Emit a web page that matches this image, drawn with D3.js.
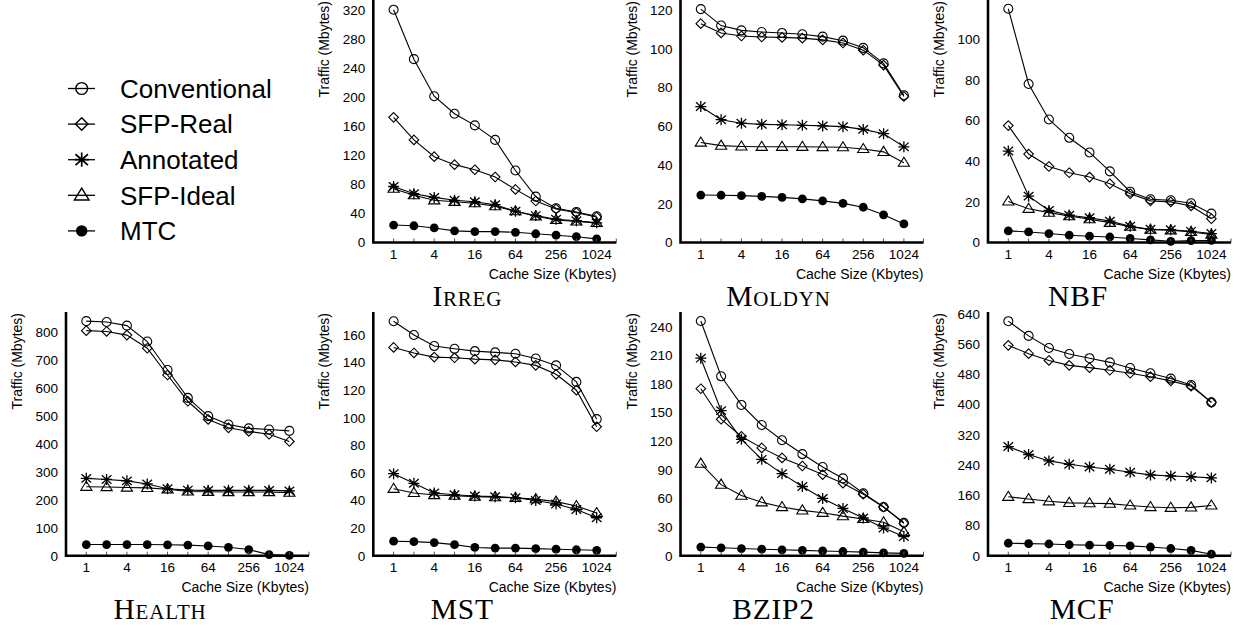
<!DOCTYPE html>
<html><head><meta charset="utf-8">
<script src="https://cdn.jsdelivr.net/npm/d3@7"></script>
<style>body{margin:0;background:#fff} svg{display:block}</style>
</head><body>
<svg id="c" width="1241" height="628"></svg>
<script>
// ---------- DATA ----------
const seriesNames = ["Conventional","SFP-Real","Annotated","SFP-Ideal","MTC"];
const markerTypes = ["circle","diamond","asterisk","triangle","dot"];
const cacheSizes = [1,2,4,8,16,32,64,128,256,512,1024];
const xTickValues = [1,4,16,64,256,1024];
const benchmarks = ["Irreg","Moldyn","NBF","Health","MST","BZIP2","MCF"];

const irregConventional = [320,252,201,177,161,141,99,63,47,42,36];
const irregSfpReal      = [172,141,118,107,100,90,73,57,46,41,35];
const irregAnnotated    = [77,67,62,58,56,52,43,37,32,30,27];
const irregSfpIdeal     = [74,65,58,56,54,50,43,36,31,29,27];
const irregMtc          = [24,23,20,16,15,15,14,12,10,8,5];

const moldynConventional = [120.5,112,109.5,108.7,108.2,107.5,106.3,104.2,100.5,92.5,76];
const moldynSfpReal      = [113,108.2,106.6,106.1,105.9,105.5,104.6,103,99.3,91.6,75.4];
const moldynAnnotated    = [70.2,63.4,61.6,61,60.8,60.5,60.2,59.8,58.4,56.2,49.4];
const moldynSfpIdeal     = [51.6,50,49.6,49.4,49.4,49.4,49.3,49.2,48.3,46.8,41.2];
const moldynMtc          = [24.5,24.4,24.2,23.8,23.3,22.5,21.5,20.2,18.2,14.3,9.6];

const nbfConventional = [115,78,60.5,51.5,44.3,35,25,21.3,20.8,19.3,14.2];
const nbfSfpReal      = [57.5,43.5,37.4,34.3,32.2,28.9,24,20.5,20,18,11.7];
const nbfAnnotated    = [45,22.8,15.8,13.4,12.2,10.5,8,6.5,6.3,5.5,4.4];
const nbfSfpIdeal     = [20.2,16.6,14.7,13,11.5,9.7,7.8,6.3,6,5.2,3.9];
const nbfMtc          = [5.7,5.2,4.4,3.6,3.1,2.7,2.0,1.3,0.6,0.9,1.0];

const healthConventional = [840,837,824,767,665,565,500,470,456,452,447];
const healthSfpReal      = [806,803,790,743,647,553,488,458,445,435,409];
const healthAnnotated    = [277,273,268,257,240,235,234,234,234,234,232];
const healthSfpIdeal     = [247,246,244,243,238,230,229,228,228,228,226];
const healthMtc          = [40,40,40,40,39,38,35,30,22,4,1];

const mstConventional = [170,160,152,150,148.3,147.4,146.4,143,138,126,99];
const mstSfpReal      = [151,147,144,143.5,142.5,142,140.5,138,131.5,120,93.5];
const mstAnnotated    = [59.5,52.5,45.5,44.2,43.3,42.8,42,40,37.5,33.5,27.5];
const mstSfpIdeal     = [48.5,45.5,44,43.5,42.8,42.5,42,41,39.2,36,31];
const mstMtc          = [10.5,10.2,9.5,8,6,5.5,5.5,5.1,4.7,4.3,3.9];

const bzip2Conventional = [246,188,158,137,121,106.5,93,81,65.5,51,34.5];
const bzip2SfpReal      = [175,143,125,113,102.5,94,85,76,64.5,51,34];
const bzip2Annotated    = [207,152,122,101,86,72.5,60,49.5,39.5,29,20];
const bzip2SfpIdeal     = [96.5,74.5,63,56,51,47.5,45,41.5,38.5,35,25];
const bzip2Mtc          = [9,8.3,7.5,6.8,6.2,5.6,5,4.4,3.7,3,2.4];

const mcfConventional = [621,582,550,534,523,512,497,483,469,452,406];
const mcfSfpReal      = [557,535,517,504,498,491,483,474,463,449,406];
const mcfAnnotated    = [289,268,251,242,235,229,221,214,211,209,206];
const mcfSfpIdeal     = [156,150,144,140,139,138,133,129,127,128,133];
const mcfMtc          = [33,32,31,29,28,27,26,23,19,14,4];

const yTickStep = [40,20,20,100,20,30,80];
const yTickTop  = [320,120,100,800,160,240,640];
const yDomainMax = [333.3,125.2,119.3,872.7,176.7,255.4,645.3];

const panelSeries = [
  [irregConventional,irregSfpReal,irregAnnotated,irregSfpIdeal,irregMtc],
  [moldynConventional,moldynSfpReal,moldynAnnotated,moldynSfpIdeal,moldynMtc],
  [nbfConventional,nbfSfpReal,nbfAnnotated,nbfSfpIdeal,nbfMtc],
  [healthConventional,healthSfpReal,healthAnnotated,healthSfpIdeal,healthMtc],
  [mstConventional,mstSfpReal,mstAnnotated,mstSfpIdeal,mstMtc],
  [bzip2Conventional,bzip2SfpReal,bzip2Annotated,bzip2SfpIdeal,bzip2Mtc],
  [mcfConventional,mcfSfpReal,mcfAnnotated,mcfSfpIdeal,mcfMtc]
];

// ---------- LAYOUT ----------
const colAxisX = [66, 373.3, 680.5, 988];
const rowBase = [242.5, 555.7];
const rowTop = [0, 312];
const slots = [[0,1],[0,2],[0,3],[1,0],[1,1],[1,2],[1,3]];
const titleDx = [94, 98, 90, 94, 89, 93, 94];
const axisLen = 243;
const sans = "'Liberation Sans', Arial, Helvetica, sans-serif";

const svg = d3.select("#c");

function marker(g, type, x, y, s) {
  s = s || 1;
  const m = g.append("g").attr("transform", `translate(${x},${y}) scale(${s})`);
  if (type === "circle") {
    m.append("circle").attr("r", 4.5).attr("fill","none").attr("stroke","#000").attr("stroke-width",1.1);
  } else if (type === "dot") {
    m.append("circle").attr("r", 4.4).attr("fill","#000");
  } else if (type === "diamond") {
    m.append("path").attr("d","M0,-4.8L4.8,0L0,4.8L-4.8,0Z").attr("fill","none").attr("stroke","#000").attr("stroke-width",1.1);
  } else if (type === "triangle") {
    m.append("path").attr("d","M0,-5.5L5.6,3.6L-5.6,3.6Z").attr("fill","none").attr("stroke","#000").attr("stroke-width",1.1);
  } else if (type === "asterisk") {
    m.append("path").attr("d","M0,-5.5V5.5M-4.8,-4.2L4.8,4.2M-4.8,4.2L4.8,-4.2M-5.5,0H5.5").attr("fill","none").attr("stroke","#000").attr("stroke-width",1.3);
  }
}

benchmarks.forEach((name, i) => {
  const [row, col] = slots[i];
  const ax = colAxisX[col];
  const y0 = rowBase[row], yT = rowTop[row];
  const x = d3.scaleLog().base(2).domain([0.5, 2000]).range([ax, ax + axisLen]);
  const y = d3.scaleLinear().domain([0, yDomainMax[i]]).range([y0, yT]);
  const g = svg.append("g");

  // series
  const line = d3.line().x((d, j) => x(cacheSizes[j])).y(d => y(d));
  panelSeries[i].forEach((vals, k) => {
    g.append("path").attr("d", line(vals)).attr("fill","none").attr("stroke","#000").attr("stroke-width",1.1);
  });
  panelSeries[i].forEach((vals, k) => {
    vals.forEach((v, j) => marker(g, markerTypes[k], x(cacheSizes[j]), y(v)));
  });

  // x axis ticks (inward small)
  cacheSizes.concat([2000]).forEach(c => {
    g.append("line").attr("x1", x(c)).attr("x2", x(c)).attr("y1", y0).attr("y2", y0 - 4)
      .attr("stroke", "#555").attr("stroke-width", 1);
  });
  // axes lines
  g.append("path").attr("d", `M${ax},${yT}V${y0}H${ax + axisLen}`)
    .attr("fill","none").attr("stroke","#000").attr("stroke-width",2.6);

  // x tick labels
  g.selectAll(null).data(xTickValues).join("text")
    .attr("x", d => x(d)).attr("y", y0 + 16)
    .attr("text-anchor","middle").attr("font-family",sans).attr("font-size",13.5)
    .text(d => d);
  // y tick labels
  const yt = d3.range(0, yTickTop[i] + 0.001, yTickStep[i]);
  g.selectAll(null).data(yt).join("text")
    .attr("x", ax - 8).attr("y", d => y(d)).attr("dy","0.36em")
    .attr("text-anchor","end").attr("font-family",sans).attr("font-size",13.5)
    .text(d => d);

  // axis titles
  g.append("text").attr("x", ax + axisLen).attr("y", y0 + 36)
    .attr("text-anchor","end").attr("font-family",sans).attr("font-size",14)
    .text("Cache Size (Kbytes)");
  g.append("text").attr("transform", `translate(${ax - 44},${yT + 1}) rotate(-90)`)
    .attr("text-anchor","end").attr("font-family",sans).attr("font-size",14)
    .text("Traffic (Mbytes)");

  // panel title
  g.append("text").attr("x", ax + titleDx[i]).attr("y", y0 + 63)
    .attr("text-anchor","middle").attr("font-family","'Liberation Serif', 'Times New Roman', serif")
    .attr("font-size",29.5).attr("letter-spacing", 0.8).style("font-variant","small-caps")
    .text(name);
});

// ---------- LEGEND ----------
const leg = svg.append("g");
seriesNames.forEach((n, k) => {
  const cy = 88.5 + k * 35.6;
  leg.append("line").attr("x1", 68).attr("x2", 95).attr("y1", cy).attr("y2", cy)
    .attr("stroke","#000").attr("stroke-width",1.3);
  marker(leg, markerTypes[k], 81.7, cy, 1.3);
  leg.append("text").attr("x", 120).attr("y", cy).attr("dy","0.36em")
    .attr("font-family",sans).attr("font-size",26).text(n);
});
</script>
</body></html>
